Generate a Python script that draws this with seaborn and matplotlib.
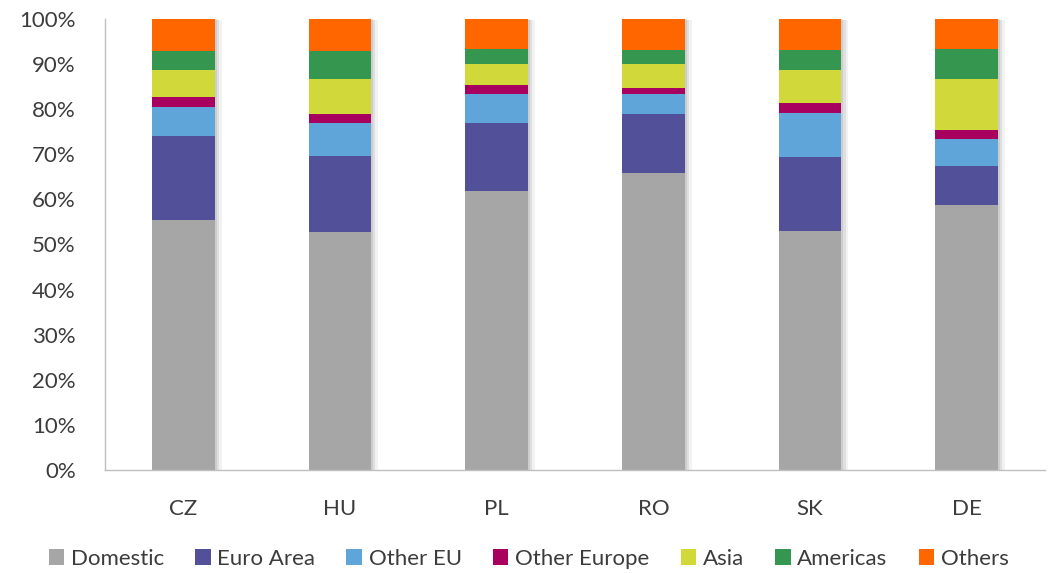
import matplotlib
matplotlib.use("Agg")
import matplotlib.pyplot as plt
import matplotlib.patheffects as pe
from matplotlib.ticker import FuncFormatter
from matplotlib.patches import Patch
import seaborn as sns
import pandas as pd

countries = ["CZ", "HU", "PL", "RO", "SK", "DE"]
series = ["Domestic", "Euro Area", "Other EU", "Other Europe", "Asia", "Americas", "Others"]
colors = ["#A6A6A6", "#525098", "#5FA5D9", "#A8005F", "#D1D83A", "#34964F", "#FF6600"]

# shares in %
domestic = [55.4, 52.7, 61.9, 65.9, 53.1, 58.8]
euro_area = [18.7, 16.9, 15.1, 13.0, 16.4, 8.7]
other_eu = [6.4, 7.4, 6.3, 4.5, 9.6, 5.8]
other_europe = [2.3, 1.9, 2.1, 1.4, 2.2, 2.0]
asia = [6.0, 7.8, 4.6, 5.2, 7.4, 11.3]
americas = [4.1, 6.2, 3.4, 3.1, 4.5, 6.8]
others = [7.1, 7.1, 6.6, 6.9, 6.8, 6.6]

values = [domestic, euro_area, other_eu, other_europe, asia, americas, others]

df = pd.DataFrame({"country": countries})
cum = [0.0] * len(countries)
for name, vals in zip(series, values):
    cum = [c + v for c, v in zip(cum, vals)]
    df[name] = cum

font = ["Lato", "DejaVu Sans"]
textcol = "#3C3C3C"
plt.rcParams["font.family"] = font

fig = plt.figure(figsize=(10.51, 5.73), dpi=100)
ax = fig.add_axes([0.0999, 0.1798, 0.8944, 0.787])

# stacked bars: draw cumulative totals from the top down
for i in range(len(series) - 1, -1, -1):
    sns.barplot(data=df, x="country", y=series[i], color=colors[i], width=0.4,
                saturation=1, ax=ax, order=countries, edgecolor="none")

n = len(countries)
for k, p in enumerate(ax.patches):
    if k < n:
        p.set_path_effects([
            pe.SimplePatchShadow(offset=(5, -1), shadow_rgbFace="#000000", alpha=0.05),
            pe.SimplePatchShadow(offset=(3, -1), shadow_rgbFace="#000000", alpha=0.08),
            pe.SimplePatchShadow(offset=(1.5, 0), shadow_rgbFace="#000000", alpha=0.08),
            pe.Normal()])

ax.set_ylim(0, 100)
ax.set_xlim(-0.5, n - 0.5)
ax.set_yticks(range(0, 101, 10))
ax.yaxis.set_major_formatter(FuncFormatter(lambda v, _: f"{v:.0f}%"))
ax.set_xlabel("")
ax.set_ylabel("")
ax.tick_params(axis="both", length=0, labelsize=16, colors=textcol)
ax.tick_params(axis="x", pad=21)
ax.tick_params(axis="y", pad=21)
for s in ["top", "right"]:
    ax.spines[s].set_visible(False)
for s in ["left", "bottom"]:
    ax.spines[s].set_color("#BFBFBF")
    ax.spines[s].set_linewidth(1)

handles = [Patch(facecolor=c, edgecolor="none") for c in colors]
fig.legend(handles, series, loc="center", bbox_to_anchor=(0.503, 0.025), ncol=7,
           frameon=False, fontsize=16, handlelength=0.7, handleheight=0.7,
           handletextpad=0.3, columnspacing=1.4, labelcolor=textcol,
           borderpad=0.1)

fig.savefig("out.png", dpi=100)
